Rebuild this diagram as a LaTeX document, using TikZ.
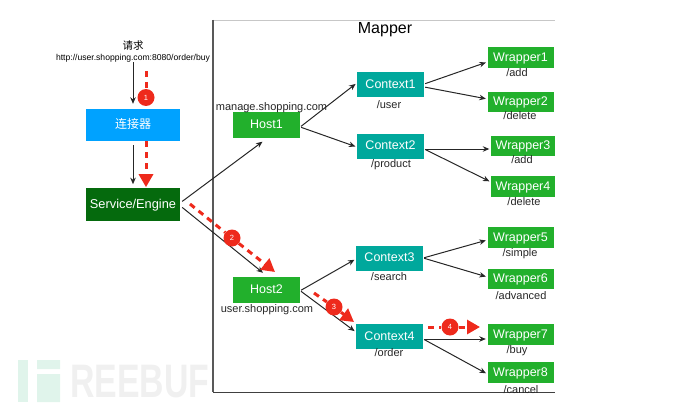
\documentclass[tikz,border=0pt]{standalone}
\usepackage{fontspec}
\setmainfont{Liberation Sans}
\newfontfamily\cjk{Noto Sans CJK SC}
\usetikzlibrary{arrows.meta,positioning}
\definecolor{connblue}{HTML}{00A2FF}
\definecolor{enginegreen}{HTML}{056A0D}
\definecolor{hostgreen}{HTML}{22B02C}
\definecolor{ctxteal}{HTML}{00A89C}
\definecolor{flowred}{HTML}{EE2A1C}
\begin{document}
\begin{tikzpicture}[x=1pt,y=-1pt, >={Stealth[length=6.5pt,width=5.5pt]},
box/.style={inner sep=0pt,text=white,font=\fontsize{12.5}{14}\selectfont,minimum width=67pt,text height=9pt,text depth=1.5pt},
ctx/.style={box,fill=ctxteal,minimum height=25pt},
wrap/.style={box,fill=hostgreen,minimum height=20.5pt,minimum width=66pt},
host/.style={box,fill=hostgreen,minimum height=26pt},
lbl/.style={inner sep=0pt,font=\fontsize{11}{12}\selectfont,text=black!85,text height=8pt,text depth=2.5pt},
link/.style={->,line width=1pt,draw=black!85},
flow/.style={line width=3pt,draw=flowred,dash pattern=on 6pt off 5pt},
flowhead/.style={flow,-{Triangle[length=13pt,width=14pt,fill=flowred]}},
badge/.style={circle,fill=flowred,text=white,inner sep=0pt,minimum size=17pt,font=\fontsize{7.5}{8}\selectfont}]
\useasboundingbox (0,0) rectangle (690,409);
% watermark
\fill[green!30!teal!12] (18,360) rectangle (28,402);
\fill[green!30!teal!12] (37,360) rectangle (60,369) (37,374) rectangle (60,402);
\node[inner sep=0pt,anchor=west,text=black!6,font=\fontsize{47}{47}\bfseries\selectfont,xscale=.72] (mark) at (70,382) {REEBUF};
% frame
\coordinate (ftop) at (213,20);
\coordinate (fbot) at (213,392);
\draw[black!22,line width=.8pt] (ftop) -- (555,20);
\draw[black!65,line width=1.2pt] (ftop) -- (fbot);
\draw[black!75,line width=1pt] (fbot) -- (555,392);
\node[inner sep=0pt,font=\fontsize{16}{18}\selectfont] (mapper) at (385,30) {Mapper};
% left column
\node[inner sep=0pt,font=\fontsize{10.5}{12}\cjk\selectfont] (req) at (133,46) {请求};
\node[inner sep=0pt,font=\fontsize{8.6}{10}\selectfont,below=3pt of req] (url) {http://user.shopping.com:8080/order/buy};
\node[box,fill=connblue,minimum width=94pt,minimum height=32pt,font=\fontsize{12}{14}\cjk\selectfont] (conn) at (133,125) {连接器};
\node[box,fill=enginegreen,minimum width=94pt,minimum height=33pt,font=\fontsize{12.8}{14}\selectfont,below=47pt of conn] (engine) {Service/Engine};
% hosts and contexts
\node[host] (host1) at (266.5,125) {Host1};
\node[host] (host2) at (266.5,290) {Host2};
\node[ctx] (ctx1) at (390.5,85) {Context1};
\node[ctx] (ctx2) at (390.5,146) {Context2};
\node[ctx] (ctx3) at (389.5,258) {Context3};
\node[ctx] (ctx4) at (389.5,336.5) {Context4};
% wrappers
\node[wrap] (w1) at (520.5,57.5) {Wrapper1};
\node[wrap] (w2) at (520.5,102) {Wrapper2};
\node[wrap,minimum width=64pt] (w3) at (523,146) {Wrapper3};
\node[wrap,minimum width=64pt] (w4) at (523,186.5) {Wrapper4};
\node[wrap] (w5) at (520.5,237.5) {Wrapper5};
\node[wrap] (w6) at (520.5,279) {Wrapper6};
\node[wrap] (w7) at (520.5,334.5) {Wrapper7};
\node[wrap] (w8) at (520.5,372.5) {Wrapper8};
% labels
\node[lbl,above=-1.25pt of host1,xshift=5pt] (host1lbl) {manage.shopping.com};
\foreach \n/\t/\d/\s in {host2/{user.shopping.com}/1.25/.5,ctx1/{/user}/2.25/-1.5,ctx2/{/product}/.25/.5,ctx3/{/search}/1.25/-.5,ctx4/{/order}/-.75/-.5,w1/{/add}/.25/-3.5,w2/{/delete}/-.75/-.5,w3/{/add}/-.75/-1,w4/{/delete}/.25/1,w5/{/simple}/.25/-.5,w6/{/advanced}/2.25/.5,w7/{/buy}/.25/-3.5,w8/{/cancel}/2.25/.5}
\node[lbl,below=\d pt of \n,xshift=\s pt] (\n lbl) {\t};
% black links
\draw[link,shorten >=5pt] (url) -- (conn);
\draw[link,shorten <=4pt,shorten >=4pt] (conn) -- (engine);
\draw[link] ([xshift=2pt,yshift=3.5pt]engine.east) -- ([xshift=-4pt,yshift=-3.5pt]host1.south);
\draw[link] ([xshift=2pt,yshift=-2.5pt]engine.east) -- ([xshift=-3.5pt,yshift=4pt]host2.north);
\foreach \a/\b/\s/\e in {host1/ctx1/-2/2,host1/ctx2/-2/-1,host2/ctx3/-.7/-1,host2/ctx4/-.7/4.5,ctx1/w1/1/-4.5,ctx1/w2/-2/3,ctx2/w3/-3/-3,ctx2/w4/-3/4.5,ctx3/w5/0/-2.5,ctx3/w6/0/2,ctx4/w7/-2.5/-4.5,ctx4/w8/-2.5/-1.5}
\draw[link,shorten <=1pt,shorten >=1.5pt] ([yshift=\s pt]\a.east) -- ([yshift=\e pt]\b.west);
% red flow
\coordinate (r1a) at (146,71);
\coordinate (r2a) at (190,204);
\coordinate (r2b) at (275,272);
\coordinate (r3a) at (314,293);
\coordinate (r3b) at (354,322);
\coordinate (r4a) at (428,327);
\coordinate (r4b) at (480,327);
\node[badge] (b1) at (146,97.5) {1};
\node[badge] (b2) at (232,238) {2};
\node[badge] (b3) at (334,307) {3};
\node[badge] (b4) at (450,327) {4};
\draw[flow] (r1a) -- (b1);
\draw[flowhead] ([xshift=13pt]conn.south) -- ([xshift=13pt,yshift=1pt]engine.north);
\draw[flow] (r2a) -- (b2);
\draw[flowhead] (b2) -- (r2b);
\draw[flow] (r3a) -- (b3);
\draw[flowhead] (b3) -- (r3b);
\draw[flow] (r4a) -- (b4);
\draw[flowhead] (b4) -- (r4b);
\end{tikzpicture}
\end{document}
